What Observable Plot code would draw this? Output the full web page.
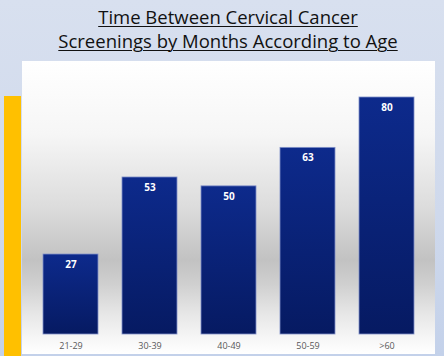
<!DOCTYPE html>
<html><head><meta charset="utf-8">
<script src="https://cdn.jsdelivr.net/npm/d3@7"></script>
<script src="https://cdn.jsdelivr.net/npm/@observablehq/plot@0.6"></script>
<style>
html,body{margin:0;padding:0;}
#page{position:relative;width:444px;height:356px;overflow:hidden;
 background:linear-gradient(180deg,#d8e0ef 0%,#cfd9ec 60%,#c3d1ea 100%);font-family:"Open Sans",Lato,sans-serif;}
#title{position:absolute;left:0;top:5px;width:456px;text-align:center;font-size:18.5px;line-height:24px;color:#111;text-decoration:underline;text-underline-offset:2px;text-decoration-thickness:1px;}
#yellow{position:absolute;left:4px;top:96px;width:17px;height:260px;background:#ffc000;}
#panel{position:absolute;left:22px;top:61px;width:413px;height:293px;
 background:linear-gradient(180deg,#ffffff 0%,#f6f6f6 25%,#dcdcdc 50%,#c2c2c2 68%,#cfcfcf 76%,#e6e6e6 86%,#f7f7f7 95%,#ffffff 100%);}
#chart{position:absolute;left:22px;top:61px;}
</style></head>
<body>
<div id="page">
 <div id="title">Time Between Cervical Cancer<br>Screenings by Months According to Age</div>
 <div id="yellow"></div>
 <div id="panel"></div>
 <div id="chart"></div>
</div>
<script>
const ages = ["21-29","30-39","40-49","50-59",">60"];
const months = [27,53,50,63,80];
const data = ages.map((a,i)=>({age:a, months:months[i]}));

const plot = Plot.plot({
  width: 413, height: 291,
  marginLeft: 7, marginRight: 7, marginTop: 36, marginBottom: 18,
  style: {background:"transparent", fontFamily:"'Open Sans',Lato,sans-serif"},
  x: {domain: ages, paddingInner: 0.3, paddingOuter: 0.15, label: null, tickSize: 0, tickPadding: 8},
  y: {domain: [0,80], axis: null},
  marks: [
    Plot.barY(data, {x:"age", y:"months", fill:"url(#barGrad)", stroke:"#7f8fc8", strokeWidth:0.8}),
    Plot.text(data, {x:"age", y:"months", text:d=>String(d.months), dy:10, fill:"white", fontWeight:"bold", fontSize:10}),
    Plot.axisX({tickSize:0, tickPadding:8, fontSize:9, color:"#595959", label:null})
  ]
});
const svg = d3.select(plot);
const defs = svg.insert("defs",":first-child");
const g = defs.append("linearGradient").attr("id","barGrad").attr("x1",0).attr("y1",0).attr("x2",0).attr("y2",1);
g.append("stop").attr("offset","0%").attr("stop-color","#0d2a8c");
g.append("stop").attr("offset","100%").attr("stop-color","#061a62");
document.getElementById("chart").appendChild(plot);
</script>
</body></html>
